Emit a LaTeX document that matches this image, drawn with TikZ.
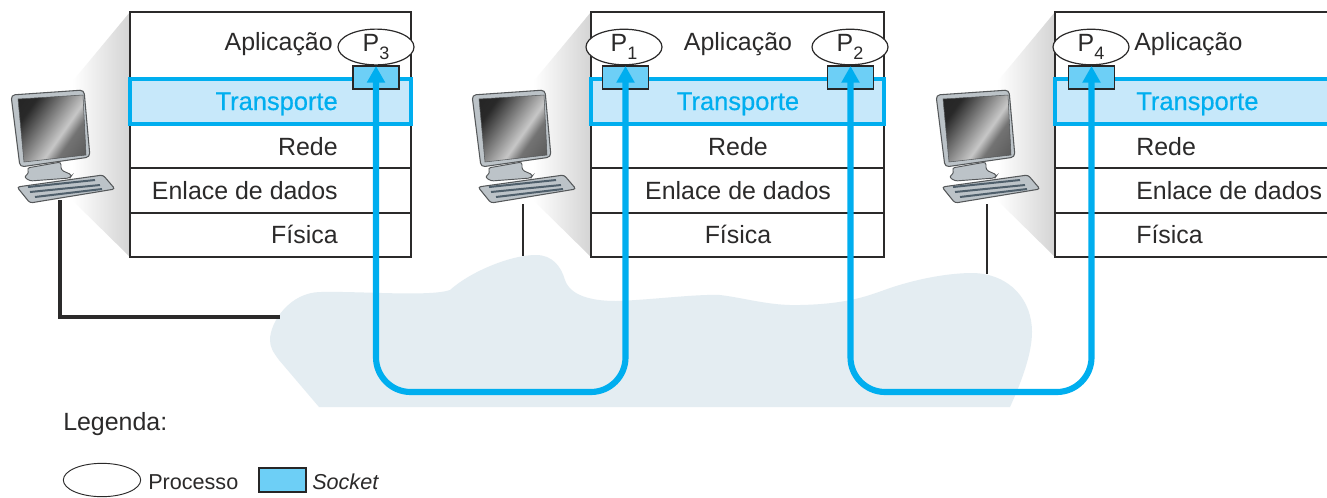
\documentclass[tikz,border=0pt]{standalone}
\usepackage{fontspec}
\setmainfont{Liberation Sans}
\usetikzlibrary{arrows.meta,shapes.geometric}
\definecolor{ink}{HTML}{2B2A2A}
\definecolor{flowblue}{HTML}{00AEEF}
\definecolor{tfill}{HTML}{C7E8FA}
\definecolor{sockfill}{HTML}{6DCFF6}
\definecolor{cloudc}{HTML}{E4EDF2}
\definecolor{pcbody}{HTML}{BCC3C8}
\definecolor{pcedge}{HTML}{55585A}
\definecolor{pckeys}{HTML}{4F5F6B}
\pgfdeclarehorizontalshading{screenshade}{100bp}{color(0bp)=(black!88); color(28bp)=(black!84); color(58bp)=(black!22); color(66bp)=(black!55); color(100bp)=(black!75)}
\tikzset{
  layer/.style={draw=ink,line width=1.1pt,fill=white,rectangle,anchor=north west,inner sep=0pt,outer sep=0pt},
  translayer/.style={draw=flowblue,line width=3pt,fill=tfill,rectangle,anchor=north west,inner sep=0pt,outer sep=0pt},
  lbl/.style={text=ink,inner sep=0pt,font=\fontsize{18.7pt}{20pt}\selectfont},
  tlbl/.style={lbl,text=flowblue,font=\fontsize{19.1pt}{20pt}\selectfont\addfontfeature{FakeBold=0.5}},
  legtxt/.style={text=ink,inner sep=0pt,font=\fontsize{16.2pt}{18pt}\selectfont},
  proc/.style={ellipse,draw=ink,line width=0.9pt,fill=white,minimum width=57pt,minimum height=25.5pt,inner sep=0pt,text=ink,font=\fontsize{18.7pt}{20pt}\selectfont},
  sock/.style={draw=ink!90!black,line width=1.3pt,fill=sockfill,rectangle,minimum width=34.5pt,minimum height=17.25pt,inner sep=0pt,outer sep=0pt},
  flow/.style={draw=flowblue,line width=4.6pt,rounded corners=26pt,{Triangle[length=12.5pt,width=13pt]}-{Triangle[length=12.5pt,width=13pt]}},
  cable/.style={draw=ink,line width=2.8pt},
  thincable/.style={draw=ink,line width=1.9pt},
}
\newcommand{\procsub}[1]{P\raisebox{-0.32em}{\fontsize{13.5pt}{14pt}\selectfont #1}}
% #1 name, #2 left x, #3 width
\newcommand{\layerstack}[3]{%
  \node[layer,minimum width=#3*0.75pt,minimum height=50.25pt] (#1a) at (#2,12) {};
  \node[layer,minimum width=#3*0.75pt,minimum height=33.75pt] (#1r) at (#2,124) {};
  \node[layer,minimum width=#3*0.75pt,minimum height=33.75pt] (#1e) at (#2,168) {};
  \node[layer,minimum width=#3*0.75pt,minimum height=33pt] (#1f) at (#2,213) {};
  \node[translayer,minimum width=#3*0.75pt,minimum height=33.75pt] (#1t) at (#2,79) {};
}
% #1 horizontal shift
\newcommand{\pcpic}[1]{%
  \begin{scope}[shift={(#1,0)}]
    \shade[left color=white,right color=black!17] (72,82)--(130,12)--(130,257)--(72,200)--cycle;
    % stand
    \fill[pcbody,draw=pcedge,line width=.7pt,rounded corners=2pt] (27,168)--(61,162)--(61,170)--(72,175)--(70,178)--(30,181)--(24,177)--(29,173)--cycle;
    % monitor
    \fill[pcbody,draw=pcedge,line width=.8pt,rounded corners=3pt] (11,95)--(84,90)--(90,157)--(20,167)--cycle;
    \shade[shading=screenshade,shading angle=-35,draw=pcedge,line width=.4pt] (18,99)--(83,95)--(86,155)--(24,162)--cycle;
    % keyboard
    \fill[pcbody,draw=pcedge,line width=.8pt,rounded corners=2pt] (17,187)--(103,175)--(115,189)--(30,203)--cycle;
    \draw[pckeys,line width=1.5pt] (28,187)--(95,180) (30,192)--(100,185) (35,197)--(102,189);
  \end{scope}
}
\begin{document}
\begin{tikzpicture}[x=0.75pt,y=-0.75pt]
\useasboundingbox (0,0) rectangle (1327,497);
\clip (0,0) rectangle (1327,497);
\fill[white] (0,0) rectangle (1327,497);

\pcpic{0}
\pcpic{461}
\pcpic{925}

\layerstack{A}{130}{281}
\layerstack{B}{591}{293}
\layerstack{C}{1055}{290}

% network cloud
\fill[cloudc] (270,340)
  .. controls (270,322) and (290,292) .. (321,292)
  .. controls (360,291) and (430,297) .. (450,290)
  .. controls (470,272) and (510,255) .. (536,255)
  .. controls (552,255) and (561,266) .. (565,280)
  .. controls (570,295) and (590,301) .. (616,301)
  .. controls (650,300) and (695,294) .. (720,295)
  .. controls (745,298) and (770,306) .. (800,305)
  .. controls (850,304) and (870,295) .. (890,288)
  .. controls (920,278) and (950,273) .. (973,273)
  .. controls (1010,274) and (1032,300) .. (1032,332)
  .. controls (1032,355) and (1020,385) .. (1010,407)
  -- (319,407) -- (279,360)
  .. controls (273,352) and (270,347) .. (270,340) -- cycle;
\coordinate (netA) at (280,317);
\coordinate (netB) at (523,256);
\coordinate (netC) at (987,274);
\coordinate (pcA) at (60,200);
\coordinate (pcB) at (523,204);
\coordinate (pcC) at (987,204);
\draw[cable] (pcA) |- (netA);
\draw[thincable] (pcB) -- (netB);
\draw[thincable] (pcC) -- (netC);

% layer labels
\node[lbl,anchor=base east] (a1) at (333,50) {Aplicação};
\node[tlbl,anchor=base east] (t1) at (338,110) {Transporte};
\node[lbl,anchor=base east] (r1) at (338,155) {Rede};
\node[lbl,anchor=base east] (e1) at (338,199) {Enlace de dados};
\node[lbl,anchor=base east] (f1) at (338,243) {Física};

\node[lbl,anchor=base] (a2) at (738,50) {Aplicação};
\node[tlbl,anchor=base] (t2) at (738,110) {Transporte};
\node[lbl,anchor=base] (r2) at (738,155) {Rede};
\node[lbl,anchor=base] (e2) at (738,199) {Enlace de dados};
\node[lbl,anchor=base] (f2) at (738,243) {Física};

\node[lbl,anchor=base west] (a3) at (1134,50) {Aplicação};
\node[tlbl,anchor=base west] (t3) at (1136,110) {Transporte};
\node[lbl,anchor=base west] (r3) at (1136,155) {Rede};
\node[lbl,anchor=base west] (e3) at (1136,199) {Enlace de dados};
\node[lbl,anchor=base west] (f3) at (1136,243) {Física};

% sockets
\node[sock] (s3) at (376,77.5) {};
\node[sock] (s1) at (625.5,77.5) {};
\node[sock] (s2) at (850.5,77.5) {};
\node[sock] (s4) at (1091.5,77.5) {};

% processes
\node[proc] (p3) at (376,47) {\procsub{3}};
\node[proc] (p1) at (624,47) {\procsub{1}};
\node[proc] (p2) at (850,47) {\procsub{2}};
\node[proc] (p4) at (1091,47) {\procsub{4}};

% flows
\coordinate (lowA) at (500,392);
\coordinate (lowB) at (970,392);
\draw[flow] (s3.north) -- (s3.north |- lowA) -- (s1.north |- lowA) -- (s1.north);
\draw[flow] (s2.north) -- (s2.north |- lowB) -- (s4.north |- lowB) -- (s4.north);

% legend
\node[text=ink,inner sep=0pt,anchor=base west,font=\fontsize{18.7pt}{20pt}\selectfont] (leg) at (63,430) {Legenda:};
\node[proc,minimum width=58pt,minimum height=25pt,line width=.7pt] (lp) at (102,480) {};
\node[legtxt,anchor=base west] (lpt) at (148,489) {Processo};
\node[sock,minimum width=35pt,minimum height=17.5pt] (ls) at (282.5,480) {};
\node[legtxt,anchor=base west,font=\fontsize{16.2pt}{18pt}\selectfont\itshape] (lst) at (312,489) {Socket};
\end{tikzpicture}
\end{document}
